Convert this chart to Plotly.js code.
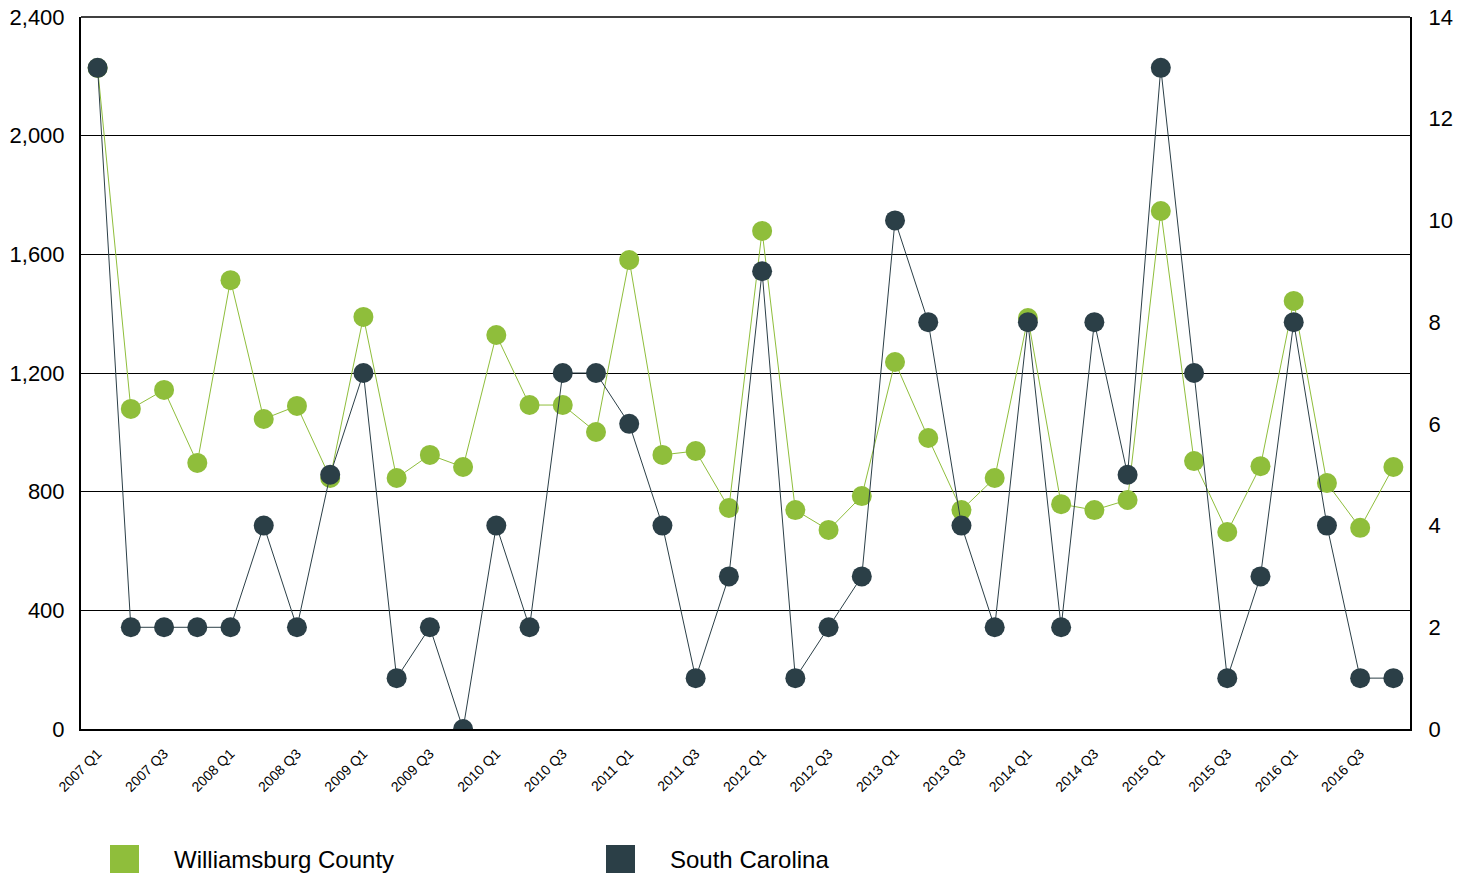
<!DOCTYPE html>
<html>
<head>
<meta charset="utf-8">
<script src="https://cdn.plot.ly/plotly-3.0.1.min.js"></script>
<style>
html,body{margin:0;padding:0;background:#fff;}
#chart{width:1468px;height:876px;}
</style>
</head>
<body>
<div id="chart"></div>
<script>
const quarters = [
  "2007 Q1","2007 Q2","2007 Q3","2007 Q4",
  "2008 Q1","2008 Q2","2008 Q3","2008 Q4",
  "2009 Q1","2009 Q2","2009 Q3","2009 Q4",
  "2010 Q1","2010 Q2","2010 Q3","2010 Q4",
  "2011 Q1","2011 Q2","2011 Q3","2011 Q4",
  "2012 Q1","2012 Q2","2012 Q3","2012 Q4",
  "2013 Q1","2013 Q2","2013 Q3","2013 Q4",
  "2014 Q1","2014 Q2","2014 Q3","2014 Q4",
  "2015 Q1","2015 Q2","2015 Q3","2015 Q4",
  "2016 Q1","2016 Q2","2016 Q3","2016 Q4"
];
const tickLabels = quarters.filter((q, i) => i % 2 === 0);

const williamsburg = [
  2228, 1079, 1143, 897,
  1513, 1045, 1089, 846,
  1389, 846, 924, 883,
  1328, 1092, 1092, 1001,
  1581, 924, 937, 745,
  1679, 738, 671, 785,
  1237, 981, 738, 846,
  1385, 758, 738, 772,
  1746, 903, 664, 886,
  1443, 829, 678, 883
];
const southCarolina = [
  13, 2, 2, 2,
  2, 4, 2, 5,
  7, 1, 2, 0,
  4, 2, 7, 7,
  6, 4, 1, 3,
  9, 1, 2, 3,
  10, 8, 4, 2,
  8, 2, 8, 5,
  13, 7, 1, 3,
  8, 4, 1, 1
];
const seriesNames = ["Williamsburg County", "South Carolina"];
const green = "#8fbe3b";
const dark = "#2b3f47";

const traces = [
  {
    x: quarters, y: williamsburg, name: seriesNames[0], type: "scatter", mode: "lines+markers",
    line: {color: green, width: 1}, marker: {color: green, size: 20}, yaxis: "y", showlegend: false
  },
  {
    x: quarters, y: southCarolina, name: seriesNames[1], type: "scatter", mode: "lines+markers",
    line: {color: dark, width: 1}, marker: {color: dark, size: 20}, yaxis: "y2", showlegend: false
  }
];

const font = "Liberation Sans, Arial, sans-serif";
const layout = {
  width: 1468, height: 876,
  margin: {l: 81, r: 58, t: 17, b: 147},
  paper_bgcolor: "#fff", plot_bgcolor: "#fff",
  font: {family: font, color: "#000"},
  showlegend: false,
  xaxis: {
    type: "category", range: [-0.5, 39.5],
    tickmode: "array", tickvals: tickLabels, ticktext: tickLabels,
    tickangle: -45, tickfont: {size: 14, family: font},
    showgrid: false, showline: true, linecolor: "#000", linewidth: 2,
    ticks: "", zeroline: false, fixedrange: true, ticklabelstandoff: 9
  },
  yaxis: {
    range: [0, 2400], tickvals: [0, 400, 800, 1200, 1600, 2000, 2400],
    tickformat: ",d", tickfont: {size: 22, family: font},
    showgrid: true, gridcolor: "#000", gridwidth: 1,
    showline: true, linecolor: "#000", linewidth: 2,
    zeroline: false, ticks: "", ticklabelstandoff: 10
  },
  yaxis2: {
    range: [0, 14], tickvals: [0, 2, 4, 6, 8, 10, 12, 14],
    overlaying: "y", side: "right", tickfont: {size: 22, family: font},
    showgrid: false, showline: true, linecolor: "#000", linewidth: 2,
    zeroline: false, ticks: "", ticklabelstandoff: 12
  },
  shapes: [
    {type: "line", xref: "paper", yref: "paper", x0: 0, x1: 1, y0: 1, y1: 1, line: {color: "#000", width: 1.5}},
    {type: "rect", xref: "paper", yref: "paper", x0: 29/1329, x1: 58/1329, y0: -116/712, y1: -144/712, fillcolor: green, line: {width: 0}},
    {type: "rect", xref: "paper", yref: "paper", x0: 525/1329, x1: 554/1329, y0: -116/712, y1: -144/712, fillcolor: dark, line: {width: 0}}
  ],
  annotations: [
    {xref: "paper", yref: "paper", x: 91/1329, y: -130/712, xanchor: "left", yanchor: "middle", showarrow: false,
     text: seriesNames[0], font: {size: 24, family: font, color: "#000"}},
    {xref: "paper", yref: "paper", x: 587/1329, y: -130/712, xanchor: "left", yanchor: "middle", showarrow: false,
     text: seriesNames[1], font: {size: 24, family: font, color: "#000"}}
  ]
};

Plotly.newPlot("chart", traces, layout, {displayModeBar: false, staticPlot: true});
</script>
</body>
</html>
